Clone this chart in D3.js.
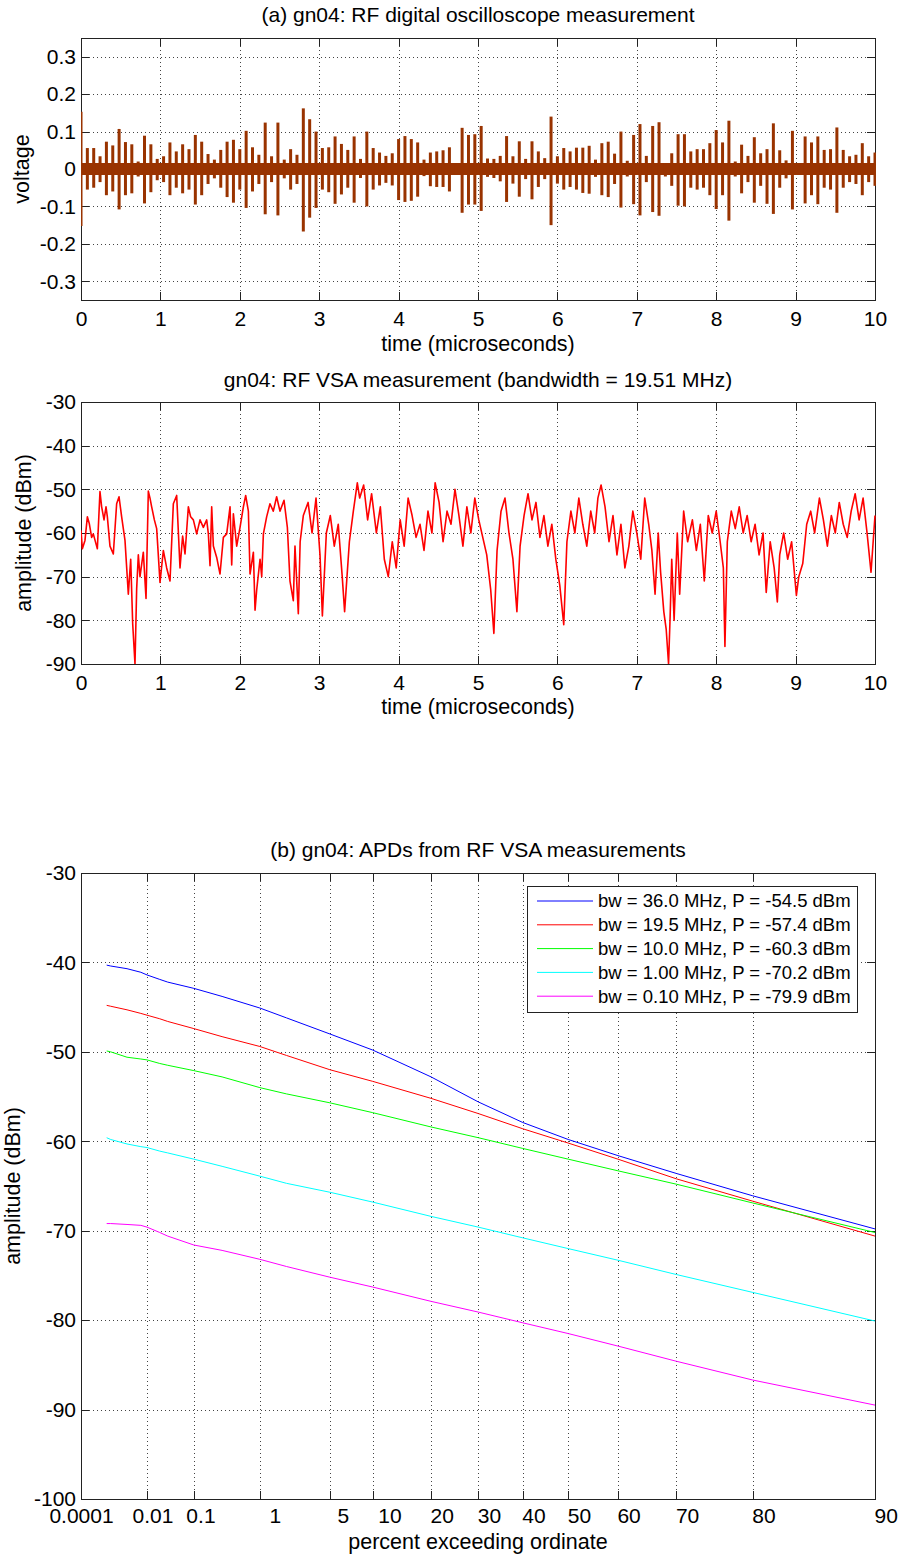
<!DOCTYPE html>
<html>
<head>
<meta charset="utf-8">
<script src="https://cdnjs.cloudflare.com/ajax/libs/d3/7.8.5/d3.min.js"></script>
<style>
body { margin: 0; background: #fff; }
#chart { width: 901px; height: 1557px; }
text { font-family: "Liberation Sans", Arial, sans-serif; fill: #000; }
.grid { stroke: #444; stroke-width: 1; stroke-dasharray: 1,3; shape-rendering: crispEdges; }
.box { fill: none; stroke: #222; stroke-width: 1; shape-rendering: crispEdges; }
.tick line { stroke: #222; shape-rendering: crispEdges; }
</style>
</head>
<body>
<div id="chart"></div>
<script>

/* DATA */

// (a) oscilloscope: one RF burst every pulsePeriod microseconds, peak and trough of each burst
var pulsePeriod = 0.08;
var pulseUp = [
    0.153, 0.056, 0.056, 0.034, 0.073, 0.063, 0.107, 0.072, 0.066, 0.020,
    0.089, 0.066, 0.027, 0.034, 0.071, 0.047, 0.066, 0.053, 0.091, 0.073,
    0.040, 0.025, 0.051, 0.073, 0.078, 0.053, 0.102, 0.058, 0.038, 0.124,
    0.034, 0.124, 0.025, 0.053, 0.038, 0.162, 0.133, 0.100, 0.056, 0.058,
    0.087, 0.067, 0.051, 0.087, 0.027, 0.100, 0.056, 0.044, 0.035, 0.042,
    0.080, 0.088, 0.080, 0.071, 0.025, 0.044, 0.047, 0.050, 0.058, 0.010,
    0.110, 0.091, 0.093, 0.115, 0.028, 0.027, 0.035, 0.088, 0.034, 0.074,
    0.027, 0.074, 0.047, 0.029, 0.140, 0.034, 0.056, 0.047, 0.057, 0.057,
    0.062, 0.025, 0.069, 0.073, 0.041, 0.100, 0.022, 0.091, 0.120, 0.035,
    0.115, 0.125, 0.016, 0.042, 0.093, 0.093, 0.047, 0.053, 0.053, 0.069,
    0.104, 0.071, 0.129, 0.020, 0.065, 0.035, 0.085, 0.042, 0.053, 0.122,
    0.050, 0.023, 0.102, 0.010, 0.087, 0.071, 0.087, 0.051, 0.053, 0.111,
    0.051, 0.034, 0.038, 0.069, 0.034, 0.044
];
var pulseDown = [
    -0.152, -0.055, -0.050, -0.035, -0.070, -0.060, -0.108, -0.070, -0.065, -0.020,
    -0.092, -0.062, -0.030, -0.035, -0.070, -0.050, -0.065, -0.055, -0.095, -0.070,
    -0.040, -0.025, -0.050, -0.075, -0.090, -0.055, -0.104, -0.060, -0.040, -0.121,
    -0.035, -0.124, -0.025, -0.055, -0.040, -0.167, -0.130, -0.104, -0.055, -0.062,
    -0.093, -0.068, -0.050, -0.090, -0.024, -0.100, -0.055, -0.044, -0.037, -0.044,
    -0.083, -0.088, -0.085, -0.074, -0.019, -0.046, -0.048, -0.048, -0.060, -0.015,
    -0.117, -0.095, -0.095, -0.112, -0.021, -0.024, -0.033, -0.088, -0.039, -0.074,
    -0.027, -0.081, -0.048, -0.027, -0.150, -0.039, -0.055, -0.048, -0.055, -0.064,
    -0.066, -0.021, -0.070, -0.075, -0.040, -0.103, -0.020, -0.094, -0.124, -0.035,
    -0.115, -0.125, -0.020, -0.045, -0.098, -0.100, -0.050, -0.055, -0.050, -0.070,
    -0.107, -0.070, -0.138, -0.020, -0.065, -0.035, -0.090, -0.045, -0.093, -0.120,
    -0.050, -0.025, -0.108, -0.012, -0.092, -0.070, -0.094, -0.050, -0.055, -0.117,
    -0.050, -0.035, -0.040, -0.070, -0.035, -0.045
];
var noiseFloor = 0.016;

// VSA envelope (time in microseconds, level in dBm)
var vsaTime = [
    0.000, 0.017, 0.050, 0.080, 0.105, 0.134, 0.155, 0.189, 0.206, 0.239,
    0.260, 0.290, 0.315, 0.332, 0.365, 0.407, 0.449, 0.479, 0.512, 0.554,
    0.596, 0.626, 0.651, 0.680, 0.701, 0.722, 0.743, 0.785, 0.819, 0.848,
    0.869, 0.890, 0.924, 0.953, 0.995, 1.037, 1.079, 1.121, 1.163, 1.205,
    1.247, 1.280, 1.310, 1.352, 1.381, 1.415, 1.457, 1.499, 1.541, 1.583,
    1.604, 1.625, 1.646, 1.667, 1.709, 1.751, 1.793, 1.835, 1.877, 1.898,
    1.919, 1.961, 2.003, 2.045, 2.074, 2.108, 2.129, 2.171, 2.192, 2.213,
    2.255, 2.276, 2.297, 2.338, 2.380, 2.422, 2.464, 2.506, 2.557, 2.599,
    2.632, 2.674, 2.695, 2.737, 2.76, 2.80, 2.86, 2.91, 2.96, 3.01,
    3.04, 3.09, 3.14, 3.19, 3.24, 3.29, 3.32, 3.38, 3.43, 3.48,
    3.51, 3.56, 3.61, 3.66, 3.72, 3.77, 3.82, 3.87, 3.92, 3.97,
    4.02, 4.07, 4.12, 4.17, 4.22, 4.27, 4.32, 4.37, 4.42, 4.46,
    4.51, 4.56, 4.61, 4.66, 4.71, 4.76, 4.81, 4.86, 4.91, 4.96,
    5.01, 5.06, 5.11, 5.16, 5.20, 5.24, 5.29, 5.34, 5.39, 5.44,
    5.49, 5.53, 5.58, 5.63, 5.68, 5.73, 5.78, 5.83, 5.88, 5.93,
    5.98, 6.03, 6.08, 6.12, 6.17, 6.22, 6.27, 6.32, 6.37, 6.42,
    6.47, 6.51, 6.55, 6.60, 6.65, 6.70, 6.75, 6.80, 6.85, 6.90,
    6.95, 7.00, 7.05, 7.10, 7.15, 7.19, 7.23, 7.27, 7.30, 7.34,
    7.37, 7.40, 7.42, 7.44, 7.47, 7.51, 7.54, 7.59, 7.64, 7.70,
    7.75, 7.80, 7.85, 7.90, 7.95, 8.00, 8.05, 8.09, 8.11, 8.14,
    8.19, 8.24, 8.29, 8.34, 8.39, 8.44, 8.49, 8.54, 8.59, 8.63,
    8.68, 8.73, 8.77, 8.80, 8.85, 8.90, 8.95, 9.01, 9.04, 9.09,
    9.14, 9.19, 9.24, 9.30, 9.35, 9.40, 9.45, 9.50, 9.55, 9.60,
    9.65, 9.70, 9.75, 9.80, 9.85, 9.90, 9.95, 10.0
];
var vsaLevel = [
    -59.4, -63.6, -61.7, -56.3, -57.9, -61.0, -60.2, -62.5, -63.6, -50.5,
    -54.0, -57.0, -54.0, -56.3, -63.0, -64.8, -53.3, -51.7, -56.3, -61.7,
    -74.0, -66.0, -80.8, -90.0, -72.8, -65.0, -70.0, -64.4, -75.0, -50.4,
    -52.0, -54.0, -57.0, -59.0, -71.3, -64.0, -68.0, -71.0, -53.3, -51.4,
    -68.0, -60.7, -64.8, -54.0, -56.3, -57.0, -60.2, -57.0, -58.7, -57.0,
    -60.2, -67.5, -54.0, -63.0, -65.6, -69.4, -61.0, -60.2, -54.0, -67.3,
    -55.6, -63.0, -58.7, -54.0, -51.4, -55.0, -69.4, -64.4, -77.7, -73.0,
    -66.0, -70.0, -60.2, -56.3, -53.3, -55.0, -51.7, -55.0, -52.5, -58.7,
    -71.0, -75.5, -63.0, -78.5, -62.0, -56.0, -53.0, -60.0, -52.0, -65.0,
    -79.0, -60.0, -56.0, -63.0, -58.0, -70.0, -78.0, -62.0, -55.0, -48.5,
    -52.0, -49.0, -57.0, -51.0, -60.0, -54.0, -66.0, -70.0, -62.0, -68.0,
    -57.0, -63.0, -52.0, -56.0, -61.0, -58.0, -64.0, -55.0, -60.0, -48.5,
    -53.0, -62.0, -55.0, -58.0, -50.0, -56.0, -63.0, -54.0, -60.0, -52.0,
    -57.0, -61.0, -65.0, -73.0, -83.0, -64.0, -55.0, -52.0, -60.0, -66.0,
    -78.0, -63.0, -56.0, -51.0, -57.0, -53.0, -61.0, -56.0, -63.0, -58.0,
    -66.0, -72.0, -81.0, -62.0, -55.0, -60.0, -52.0, -58.0, -63.0, -55.0,
    -60.0, -52.0, -49.0, -54.0, -62.0, -56.0, -65.0, -58.0, -68.0, -63.0,
    -55.0, -60.0, -66.0, -52.0, -58.0, -64.0, -74.0, -60.0, -69.0, -78.0,
    -82.0, -90.0, -79.0, -66.0, -80.0, -60.0, -74.0, -55.0, -62.0, -57.0,
    -64.0, -58.0, -71.0, -56.0, -60.0, -55.0, -62.0, -68.0, -86.0, -62.0,
    -55.0, -59.0, -54.0, -60.0, -56.0, -62.0, -58.0, -65.0, -60.0, -73.6,
    -62.0, -68.0, -75.8, -65.0, -60.0, -66.0, -62.0, -74.3, -70.0, -67.0,
    -58.0, -55.0, -60.0, -52.0, -57.0, -63.0, -56.0, -60.0, -53.0, -58.0,
    -61.0, -55.0, -51.0, -57.0, -52.0, -60.0, -69.0, -56.0
];

// (b) APDs: percent exceeding ordinate and amplitude (dBm) per bandwidth
var apdPercent = [0.00075, 0.001, 0.003, 0.007, 0.01, 0.02, 0.03, 0.1, 0.3, 1, 2, 5, 10, 20, 30, 40, 50, 60, 70, 80, 90];
var apdBw360 = [-40.3, -40.4, -40.7, -41.1, -41.4, -41.9, -42.2, -42.9, -43.8, -45.1, -46.2, -48.0, -49.8, -52.8, -55.6, -57.9, -59.8, -61.6, -63.6, -66.1, -69.8];
var apdBw195 = [-44.8, -44.9, -45.3, -45.7, -45.9, -46.3, -46.6, -47.4, -48.3, -49.4, -50.4, -52.0, -53.3, -55.2, -56.9, -58.6, -60.2, -62.0, -64.2, -66.7, -70.6];
var apdBw100 = [-49.9, -50.0, -50.6, -50.8, -50.9, -51.3, -51.5, -52.1, -52.8, -54.0, -54.7, -55.7, -56.8, -58.4, -59.6, -60.8, -62.0, -63.3, -64.8, -66.9, -70.2];
var apdBw010 = [-59.6, -59.8, -60.3, -60.6, -60.7, -61.1, -61.3, -62.0, -62.8, -63.9, -64.7, -65.7, -66.8, -68.4, -69.6, -70.8, -72.0, -73.3, -74.9, -76.9, -80.1];
var apdBw001 = [-69.2, -69.2, -69.3, -69.4, -69.6, -70.2, -70.6, -71.6, -72.2, -73.2, -74.0, -75.2, -76.3, -77.9, -79.1, -80.3, -81.5, -82.9, -84.6, -86.7, -89.5];
var apdNames = [
    "bw = 36.0 MHz, P = -54.5 dBm",
    "bw = 19.5 MHz, P = -57.4 dBm",
    "bw = 10.0 MHz, P = -60.3 dBm",
    "bw = 1.00 MHz, P = -70.2 dBm",
    "bw = 0.10 MHz, P = -79.9 dBm"
];

// Tick values and labels
var timeTicks = [0, 1, 2, 3, 4, 5, 6, 7, 8, 9, 10];
var voltTicks = [-0.3, -0.2, -0.1, 0, 0.1, 0.2, 0.3];
var vsaTicks = [-90, -80, -70, -60, -50, -40, -30];
var apdTicks = [-100, -90, -80, -70, -60, -50, -40, -30];
var pctTicks = [0.0001, 0.01, 0.1, 1, 5, 10, 20, 30, 40, 50, 60, 70, 80, 90];
var pctLabels = ["0.0001", "0.01", "0.1", "1", "5", "10", "20", "30", "40", "50", "60", "70", "80", "90"];


/* LAYOUT */

var width = 901, height = 1557;
var plotLeft = 81, plotRight = 875;
var fontTick = 21, fontLabel = 21.5, fontTitle = 21;
var apdColors = ["#0000ff", "#ff0000", "#00ff00", "#00ffff", "#ff00ff"];
// nudges of the probability labels, as they sit in the original figure
var pctNudge = [0, -14, -7, 10, 8, 6, 0, 0, 0, 0, 0, 0, 0, 0];

var svg = d3.select("#chart")
    .append("svg")
    .attr("width", width)
    .attr("height", height);

// Rayleigh-paper abscissa: log10(-ln(p))
function rayleigh(pct) { return Math.log10(-Math.log(pct / 100)); }

function fmtNum(d) { return String(+d.toFixed(2)); }

// Draw grid, box, ticks and tick labels for one panel
function drawFrame(g, x, y, xVals, yVals, xFmt, yFmt, xPad) {
    var x0 = x.range()[0], x1 = x.range()[1];
    var y0 = y.range()[1], y1 = y.range()[0];

    g.selectAll(".gx")
        .data(xVals.filter(function(d) { var p = x(d); return p > x0 + 1 && p < x1 - 1; }))
        .enter().append("line")
            .attr("class", "grid")
            .attr("x1", function(d) { return Math.round(x(d)) + 0.5; })
            .attr("x2", function(d) { return Math.round(x(d)) + 0.5; })
            .attr("y1", y0).attr("y2", y1);
    g.selectAll(".gy")
        .data(yVals.filter(function(d) { var p = y(d); return p > y0 + 1 && p < y1 - 1; }))
        .enter().append("line")
            .attr("class", "grid")
            .attr("y1", function(d) { return Math.round(y(d)) + 0.5; })
            .attr("y2", function(d) { return Math.round(y(d)) + 0.5; })
            .attr("x1", x0).attr("x2", x1);

    var axB = g.append("g").attr("transform", "translate(0," + y1 + ")")
        .call(d3.axisBottom(x).tickValues(xVals).tickSize(-8).tickPadding(xPad).tickFormat(xFmt));
    g.append("g").attr("transform", "translate(0," + y0 + ")")
        .call(d3.axisTop(x).tickValues(xVals).tickSize(-8).tickFormat(""));
    var axL = g.append("g").attr("transform", "translate(" + x0 + ",0)")
        .call(d3.axisLeft(y).tickValues(yVals).tickSize(-8).tickPadding(5).tickFormat(yFmt));
    g.append("g").attr("transform", "translate(" + x1 + ",0)")
        .call(d3.axisRight(y).tickValues(yVals).tickSize(-8).tickFormat(""));

    g.selectAll(".domain").remove();
    g.selectAll(".tick text")
        .attr("font-size", fontTick)
        .attr("font-family", "Liberation Sans, Arial, sans-serif")
        .style("fill", "#000");
    g.selectAll("g").attr("font-family", null).attr("font-size", null);

    g.append("rect")
        .attr("class", "box")
        .attr("x", x0 + 0.5).attr("y", y0 + 0.5)
        .attr("width", x1 - x0).attr("height", y1 - y0);
    return { bottom: axB, left: axL };
}

function addTitle(text, yPos) {
    svg.append("text")
        .attr("x", (plotLeft + plotRight) / 2).attr("y", yPos)
        .attr("text-anchor", "middle")
        .attr("font-size", fontTitle)
        .text(text);
}
function addXLabel(text, yPos) {
    svg.append("text")
        .attr("x", (plotLeft + plotRight) / 2).attr("y", yPos)
        .attr("text-anchor", "middle")
        .attr("font-size", fontLabel)
        .text(text);
}
function addYLabel(text, xPos, yMid) {
    svg.append("text")
        .attr("transform", "translate(" + xPos + "," + yMid + ") rotate(-90)")
        .attr("text-anchor", "middle")
        .attr("font-size", fontLabel)
        .text(text);
}


/* PANEL (a): oscilloscope */

var xA = d3.scaleLinear().domain([0, 10]).range([plotLeft, plotRight]);
var yA = d3.scaleLinear().domain([-0.35, 0.35]).range([300, 38]);
var gA = svg.append("g").attr("id", "scope");

var pulses = pulseUp.map(function(d, i) { return { t: i * pulsePeriod, up: d, down: pulseDown[i] }; });

svg.append("clipPath").attr("id", "clipA")
    .append("rect").attr("x", plotLeft).attr("y", 38).attr("width", plotRight - plotLeft + 1).attr("height", 262);

drawFrame(gA, xA, yA, timeTicks, voltTicks, fmtNum, fmtNum, 11);

var traceA = gA.append("g").attr("clip-path", "url(#clipA)");
traceA.append("path")
    .datum([0, 10])
    .attr("fill", "#993300")
    .attr("d", d3.area()
        .x(function(d) { return xA(d); })
        .y0(yA(-noiseFloor))
        .y1(yA(noiseFloor)));
traceA.selectAll(".burst")
    .data(pulses)
    .enter().append("line")
        .attr("class", "burst")
        .attr("x1", function(d) { return xA(d.t); })
        .attr("x2", function(d) { return xA(d.t); })
        .attr("y1", function(d) { return yA(d.up); })
        .attr("y2", function(d) { return yA(d.down); })
        .attr("stroke", "#993300")
        .attr("stroke-width", 3);

addTitle("(a) gn04: RF digital oscilloscope measurement", 22);
addXLabel("time (microseconds)", 351);
addYLabel("voltage", 29, 169);


/* PANEL (middle): VSA */

var xV = d3.scaleLinear().domain([0, 10]).range([plotLeft, plotRight]);
var yV = d3.scaleLinear().domain([-90, -30]).range([664, 402]);
var gV = svg.append("g").attr("id", "vsa");
drawFrame(gV, xV, yV, timeTicks, vsaTicks, fmtNum, fmtNum, 11);

svg.append("clipPath").attr("id", "clipV")
    .append("rect").attr("x", plotLeft).attr("y", 402).attr("width", plotRight - plotLeft + 1).attr("height", 262);

gV.append("path")
    .datum(vsaTime.map(function(t, i) { return [t, vsaLevel[i]]; }))
    .attr("clip-path", "url(#clipV)")
    .attr("fill", "none")
    .attr("stroke", "#ff0000")
    .attr("stroke-width", 1.6)
    .attr("stroke-linejoin", "round")
    .attr("d", d3.line()
        .x(function(d) { return xV(d[0]); })
        .y(function(d) { return yV(d[1]); }));

addTitle("gn04: RF VSA measurement (bandwidth = 19.51 MHz)", 387);
addXLabel("time (microseconds)", 714);
addYLabel("amplitude (dBm)", 31, 533);


/* PANEL (b): APDs */

var xP = d3.scaleLinear().domain([rayleigh(0.0001), rayleigh(90)]).range([plotLeft, plotRight]);
var xB = function(pct) { return xP(rayleigh(pct)); };
var yB = d3.scaleLinear().domain([-100, -30]).range([1499, 873]);
var gB = svg.append("g").attr("id", "apd");

// ticks live on the transformed scale
var pctPos = pctTicks.map(rayleigh);
var frameB = drawFrame(gB, xP, yB, pctPos, apdTicks,
    function(d, i) { return pctLabels[i]; }, fmtNum, 9);
frameB.bottom.selectAll(".tick text")
    .attr("text-anchor", function(d, i) { return i === 0 ? "middle" : "start"; })
    .attr("dx", function(d, i) { return pctNudge[i] + (i === 0 ? 0 : -1); });

var apdSeries = [apdBw360, apdBw195, apdBw100, apdBw010, apdBw001];
var apdLine = d3.line()
    .x(function(d) { return xB(d[0]); })
    .y(function(d) { return yB(d[1]); });

gB.selectAll(".apd")
    .data(apdSeries)
    .enter().append("path")
        .attr("class", "apd")
        .attr("fill", "none")
        .attr("stroke", function(d, i) { return apdColors[i]; })
        .attr("stroke-width", 1)
        .attr("d", function(s) { return apdLine(apdPercent.map(function(p, j) { return [p, s[j]]; })); });

// Legend
var leg = gB.append("g").attr("id", "legend").attr("transform", "translate(527,886)");
leg.append("rect")
    .attr("x", 0.5).attr("y", 0.5).attr("width", 330).attr("height", 126)
    .attr("fill", "#fff").attr("stroke", "#222").attr("shape-rendering", "crispEdges");
var rows = leg.selectAll(".row")
    .data(apdNames)
    .enter().append("g")
        .attr("class", "row")
        .attr("transform", function(d, i) { return "translate(0," + (15 + i * 23.8) + ")"; });
rows.append("line")
    .attr("x1", 10).attr("x2", 66)
    .attr("stroke", function(d, i) { return apdColors[i]; });
rows.append("text")
    .attr("x", 71).attr("dy", "0.35em")
    .attr("font-size", 18.5)
    .text(function(d) { return d; });

addTitle("(b) gn04: APDs from RF VSA measurements", 857);
addXLabel("percent exceeding ordinate", 1549);
addYLabel("amplitude (dBm)", 20, 1186);

</script>
</body>
</html>
